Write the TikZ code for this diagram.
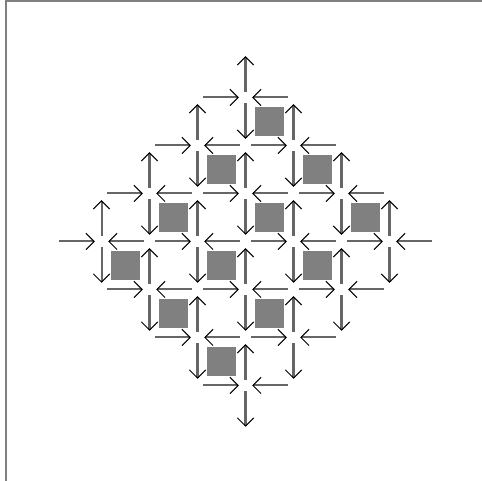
\documentclass[tikz,border=0pt]{standalone}
\usetikzlibrary{arrows.meta}
\begin{document}
\begin{tikzpicture}[x=1cm, y=1cm,
  flow/.style={draw=black!60, line width=1.2pt, shorten <=0.12cm, shorten >=0.14cm,
    -{Straight Barb[length=0.17cm, width=0.34cm, line width=0.6pt, black]}},
  cell/.style={fill=black!50, minimum size=0.6cm, inner sep=0pt},
  frame/.style={draw=black!50, line width=1.2pt}]
  \useasboundingbox (-5.115,-4.99) rectangle (4.927,5.031);
  \draw[frame] (-5,-4.99) -- (-5,5) -- (4.927,5);
  \foreach \i in {0,...,8}
    \foreach \j in {0,...,8}
      \coordinate (p\i\j) at (\i-4,\j-4);
  \foreach \i in {0,...,7}
    \foreach \j in {0,...,7} {
      \pgfmathtruncatemacro\inc{abs(2*\i-7)+abs(2*\j-7)}
      \ifnum\inc<7 \ifodd\numexpr\i+\j\relax\else
        \node[cell] (c\i\j) at (\i-3.5,\j-3.5) {};
      \fi\fi
    }
  \foreach \i in {0,...,7}
    \foreach \j in {0,...,8} {
      \pgfmathtruncatemacro\ina{abs(\i-4)+abs(\j-4)}
      \pgfmathtruncatemacro\inb{abs(\i-3)+abs(\j-4)}
      \pgfmathtruncatemacro\nx{\i+1}
      \ifnum\ina<5 \ifnum\inb<5
        \ifodd\numexpr\i+\j\relax
          \draw[flow] (p\nx\j) -- (p\i\j);
        \else
          \draw[flow] (p\i\j) -- (p\nx\j);
        \fi
      \fi\fi
    }
  \foreach \i in {0,...,8}
    \foreach \j in {0,...,7} {
      \pgfmathtruncatemacro\ina{abs(\i-4)+abs(\j-4)}
      \pgfmathtruncatemacro\inb{abs(\i-4)+abs(\j-3)}
      \pgfmathtruncatemacro\ny{\j+1}
      \ifnum\ina<5 \ifnum\inb<5
        \ifodd\numexpr\i+\j\relax
          \draw[flow] (p\i\j) -- (p\i\ny);
        \else
          \draw[flow] (p\i\ny) -- (p\i\j);
        \fi
      \fi\fi
    }
\end{tikzpicture}
\end{document}
